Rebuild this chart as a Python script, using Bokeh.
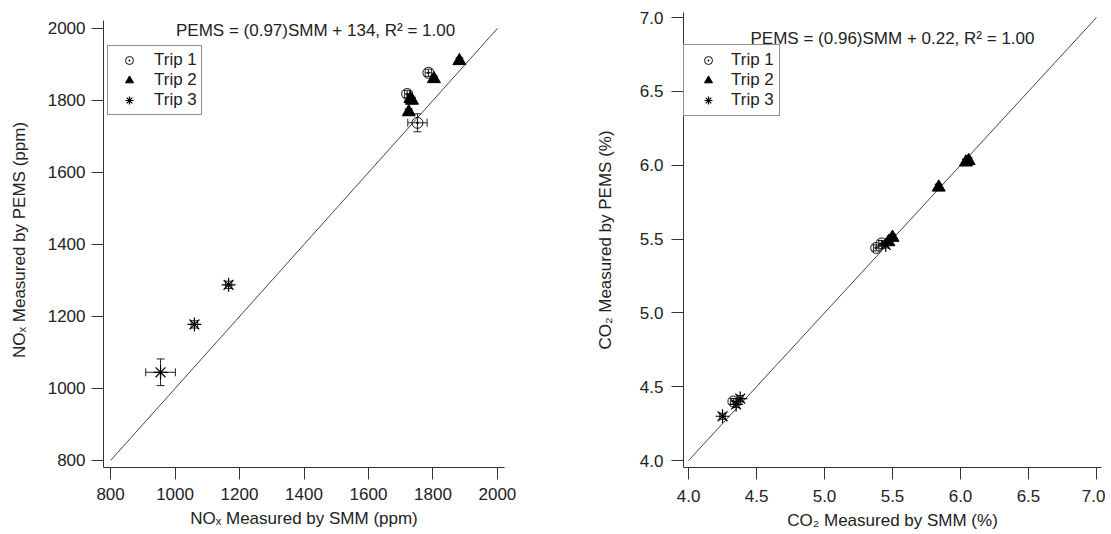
from bokeh.plotting import figure
from bokeh.models import (ColumnDataSource, Whisker, TeeHead, Label, Legend,
                          LegendItem, FixedTicker)
from bokeh.layouts import row
from bokeh.embed import file_html
from bokeh.resources import INLINE

# ---------------- data: NOx (ppm) ----------------
nox_t1_smm = [1720, 1786, 1752]
nox_t1_pems = [1818, 1877, 1738]
nox_t1_xerr = [8, 10, 30]
nox_t1_yerr = [10, 10, 25]

nox_t2_smm = [1725, 1730, 1735, 1803, 1882]
nox_t2_pems = [1768, 1805, 1800, 1860, 1910]
nox_t2_xerr = [8, 8, 8, 8, 8]
nox_t2_yerr = [8, 8, 8, 8, 8]

nox_t3_smm = [955, 1060, 1166]
nox_t3_pems = [1045, 1178, 1288]
nox_t3_xerr = [46, 10, 10]
nox_t3_yerr = [37, 10, 10]

nox_ticks = [800, 1000, 1200, 1400, 1600, 1800, 2000]
nox_line = [800, 2000]
nox_eq = "PEMS = (0.97)SMM + 134, R\u00b2 = 1.00"

# ---------------- data: CO2 (%) ----------------
co2_t1_smm = [5.38, 5.42, 4.33]
co2_t1_pems = [5.44, 5.47, 4.40]
co2_t2_smm = [5.47, 5.50, 5.84, 6.04, 6.06]
co2_t2_pems = [5.48, 5.51, 5.85, 6.02, 6.03]
co2_t3_smm = [4.25, 4.35, 4.38, 5.45]
co2_t3_pems = [4.30, 4.38, 4.42, 5.46]
co2_err = 0.02

co2_ticks = [4.0, 4.5, 5.0, 5.5, 6.0, 6.5, 7.0]
co2_line = [4.0, 7.0]
co2_eq = "PEMS = (0.96)SMM + 0.22, R\u00b2 = 1.00"

FONT = "Liberation Sans"
TXT = "#222222"


def style(p, ticks, tick_standoff, label_standoff_y, label_standoff_x):
    p.outline_line_color = None
    p.xgrid.grid_line_color = None
    p.ygrid.grid_line_color = None
    p.xaxis.ticker = FixedTicker(ticks=ticks)
    p.yaxis.ticker = FixedTicker(ticks=ticks)
    for ax in (p.xaxis[0], p.yaxis[0]):
        ax.axis_line_color = "#333333"
        ax.major_tick_line_color = "#333333"
        ax.major_tick_out = 12
        ax.major_tick_in = 0
        ax.minor_tick_out = 0
        ax.minor_tick_in = 0
        ax.major_label_text_font = FONT
        ax.major_label_text_font_size = "17px"
        ax.major_label_text_color = TXT
        ax.axis_label_text_font = FONT
        ax.axis_label_text_font_size = "17px"
        ax.axis_label_text_font_style = "normal"
        ax.axis_label_text_color = TXT
        ax.major_label_standoff = tick_standoff
    p.xaxis[0].major_label_standoff = tick_standoff + 2
    p.yaxis[0].axis_label_standoff = label_standoff_y
    p.xaxis[0].axis_label_standoff = label_standoff_x


def errbars(p, xs, ys, xe, ye):
    src = ColumnDataSource(dict(
        x=xs, y=ys,
        xl=[a - b for a, b in zip(xs, xe)], xu=[a + b for a, b in zip(xs, xe)],
        yl=[a - b for a, b in zip(ys, ye)], yu=[a + b for a, b in zip(ys, ye)]))
    p.add_layout(Whisker(source=src, base="x", lower="yl", upper="yu",
                         dimension="height", line_color="#222222", line_width=1,
                         lower_head=TeeHead(size=8, line_color="#222222", line_width=1),
                         upper_head=TeeHead(size=8, line_color="#222222", line_width=1)))
    p.add_layout(Whisker(source=src, base="y", lower="xl", upper="xu",
                         dimension="width", line_color="#222222", line_width=1,
                         lower_head=TeeHead(size=8, line_color="#222222", line_width=1),
                         upper_head=TeeHead(size=8, line_color="#222222", line_width=1)))


def markers(p, t1, t2, t3):
    r1 = p.scatter(t1[0], t1[1], marker="circle_dot", size=11,
                   fill_color=None, line_color="#111111", line_width=1)
    r2 = p.scatter(t2[0], t2[1], marker="triangle", size=13,
                   fill_color="#000000", line_color="#000000")
    r3 = p.scatter(t3[0], t3[1], marker="asterisk", size=14,
                   line_color="#000000", line_width=1.2)
    return r1, r2, r3


def legend(p, rs, loc, pad, gw, ls):
    lg = Legend(items=[LegendItem(label="Trip 1", renderers=[rs[0]]),
                       LegendItem(label="Trip 2", renderers=[rs[1]]),
                       LegendItem(label="Trip 3", renderers=[rs[2]])],
                location=loc, padding=pad, spacing=0, margin=0,
                glyph_width=gw, glyph_height=20, label_height=20,
                label_standoff=ls, label_text_font=FONT,
                label_text_font_size="17px", label_text_color=TXT,
                border_line_color="#222222", border_line_width=1,
                background_fill_alpha=1.0)
    p.add_layout(lg, "center")


# ---------------- left: NOx ----------------
p1 = figure(width=560, height=534, x_range=(778, 2022), y_range=(780.5, 2044.4),
            output_backend="svg", toolbar_location=None,
            min_border_left=103, min_border_right=56,
            min_border_top=12, min_border_bottom=67)
style(p1, nox_ticks, 6, 16, 6)
p1.yaxis[0].bounds = (780.5, 2022)
p1.xaxis.axis_label = "NO\u2093 Measured by SMM (ppm)"
p1.yaxis.axis_label = "NO\u2093 Measured by PEMS (ppm)"
p1.line(nox_line, nox_line, line_color="#444444", line_width=1)
errbars(p1, nox_t1_smm + nox_t2_smm + nox_t3_smm,
        nox_t1_pems + nox_t2_pems + nox_t3_pems,
        nox_t1_xerr + nox_t2_xerr + nox_t3_xerr,
        nox_t1_yerr + nox_t2_yerr + nox_t3_yerr)
rs1 = markers(p1, (nox_t1_smm, nox_t1_pems), (nox_t2_smm, nox_t2_pems),
              (nox_t3_smm, nox_t3_pems))
legend(p1, rs1, (4, 352), 4, 34, 8)
p1.add_layout(Label(x=1436, y=1994, text=nox_eq, text_align="center",
                    text_baseline="middle", text_font=FONT,
                    text_font_size="17px", text_color=TXT))

# ---------------- right: CO2 ----------------
p2 = figure(width=545, height=534, x_range=(3.963, 7.037), y_range=(3.953, 7.034),
            output_backend="svg", toolbar_location=None,
            min_border_left=123, min_border_right=4,
            min_border_top=12, min_border_bottom=66)
style(p2, co2_ticks, 8, 22, 6)
p2.xaxis.axis_label = "CO\u2082 Measured by SMM (%)"
p2.yaxis.axis_label = "CO\u2082 Measured by PEMS (%)"
p2.xaxis.major_label_overrides = {t: f"{t:.1f}" for t in co2_ticks}
p2.yaxis.major_label_overrides = {t: f"{t:.1f}" for t in co2_ticks}
p2.line(co2_line, co2_line, line_color="#444444", line_width=1)
xs2 = co2_t1_smm + co2_t2_smm + co2_t3_smm
ys2 = co2_t1_pems + co2_t2_pems + co2_t3_pems
errbars(p2, xs2, ys2, [co2_err] * len(xs2), [co2_err] * len(ys2))
rs2 = markers(p2, (co2_t1_smm, co2_t1_pems), (co2_t2_smm, co2_t2_pems),
              (co2_t3_smm, co2_t3_pems))
legend(p2, rs2, (0, 351), 5, 38, 4)
p2.add_layout(Label(x=5.5, y=6.86, text=co2_eq, text_align="center",
                    text_baseline="middle", text_font=FONT,
                    text_font_size="17px", text_color=TXT))

layout = row(p1, p2)
open("out.html", "w").write(file_html(layout, INLINE))
